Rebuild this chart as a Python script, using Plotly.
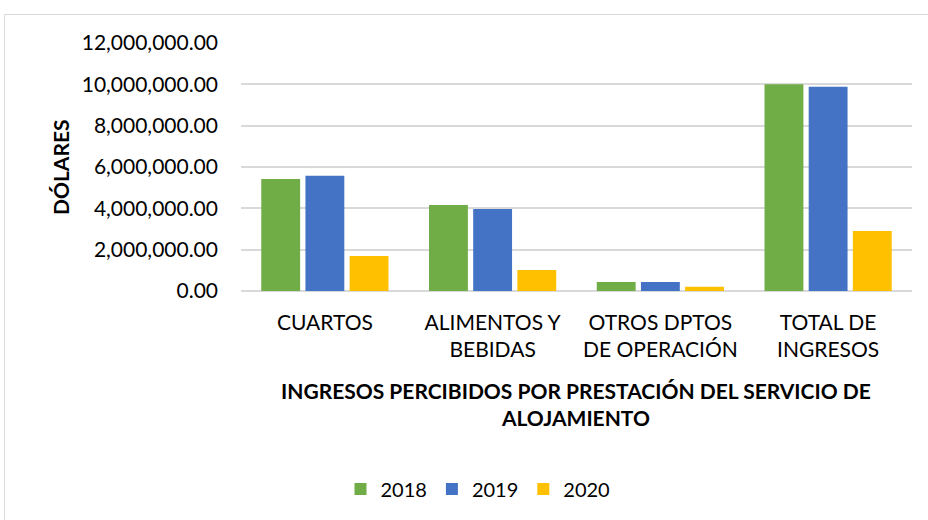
import plotly.graph_objects as go

categories = ["CUARTOS", "ALIMENTOS Y<br>BEBIDAS", "OTROS DPTOS<br>DE OPERACIÓN", "TOTAL DE<br>INGRESOS"]
years = ["2018", "2019", "2020"]
values_2018 = [5420000, 4160000, 440000, 10000000]
values_2019 = [5580000, 3970000, 440000, 9880000]
values_2020 = [1690000, 1020000, 210000, 2900000]
y_ticks = [0, 2000000, 4000000, 6000000, 8000000, 10000000, 12000000]

series = [values_2018, values_2019, values_2020]
colors = ["#70AD47", "#4472C4", "#FFC000"]

FONT = "Lato, Open Sans, sans-serif"

fig = go.Figure()
for name, vals, col in zip(years, series, colors):
    fig.add_trace(go.Bar(name=name, x=categories, y=vals, marker=dict(color=col, line=dict(width=0))))

W, H = 928, 520
L, R, T, B = 241, 928 - 912, 43, 520 - 291
pw, ph = W - L - R, H - T - B

def px_x(x):
    return (x - L) / pw

def px_y(y):
    return (H - B - y) / ph

fig.update_layout(
    width=W, height=H,
    margin=dict(l=L, r=R, t=T, b=B),
    paper_bgcolor="white", plot_bgcolor="white",
    barmode="group", bargap=0.21, bargroupgap=0.12,
    font=dict(family=FONT, size=21, color="#000000"),
    showlegend=True,
    legend=dict(orientation="h", x=px_x(478), xanchor="center", y=px_y(489), yanchor="middle",
                font=dict(size=20, family=FONT), itemwidth=30, traceorder="normal"),
    xaxis=dict(showgrid=False, showline=False, ticks="", tickfont=dict(size=21, family=FONT),
               ticklabelstandoff=17),
    yaxis=dict(range=[0, 12000000], tickvals=y_ticks, tickformat=",.2f",
               showgrid=True, gridcolor="#D9D9D9", gridwidth=2,
               zeroline=True, zerolinecolor="#D9D9D9", zerolinewidth=2,
               showline=False, ticks="", tickfont=dict(size=21, family=FONT),
               ticklabelstandoff=22),
    annotations=[
        dict(text="<b>INGRESOS PERCIBIDOS POR PRESTACIÓN DEL SERVICIO DE<br>ALOJAMIENTO</b>",
             xref="paper", yref="paper", x=px_x(576), y=px_y(404), xanchor="center", yanchor="middle",
             showarrow=False, font=dict(size=21, family=FONT)),
        dict(text="<b>DÓLARES</b>", xref="paper", yref="paper", x=px_x(60), y=px_y(167),
             xanchor="center", yanchor="middle", textangle=-90, showarrow=False,
             font=dict(size=21, family=FONT)),
    ],
    shapes=[
        dict(type="rect", xref="paper", yref="paper", x0=px_x(4.5), x1=px_x(960), y0=px_y(560), y1=px_y(14.5),
             line=dict(color="#D9D9D9", width=1), fillcolor="rgba(0,0,0,0)", layer="below"),
    ],
)

fig.write_html("out.html", config={"displayModeBar": False},
               post_script="document.body.style.margin='0px';")
